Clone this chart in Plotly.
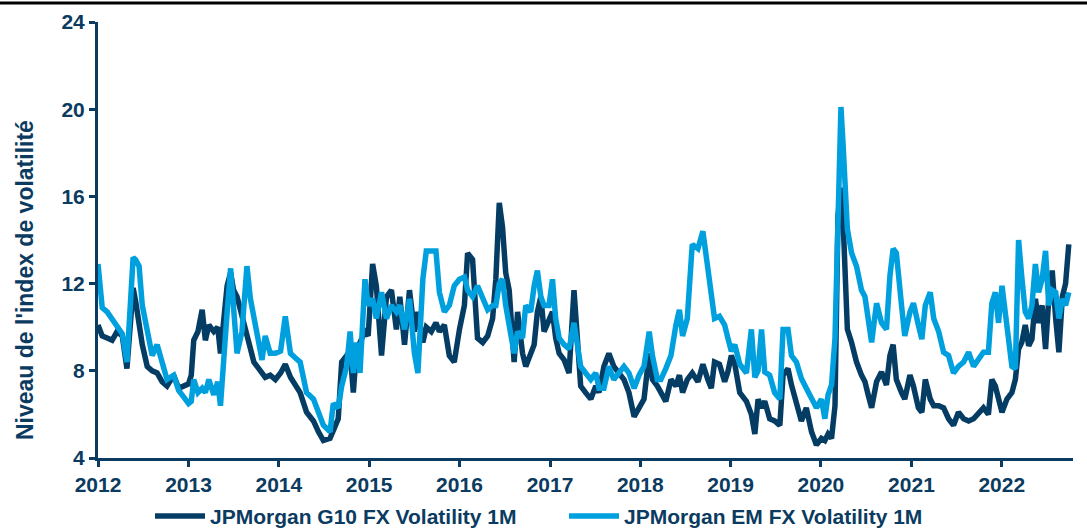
import plotly.graph_objects as go

dates = [
    "2012-01-01","2012-01-18","2012-02-07","2012-02-27","2012-03-18","2012-04-08","2012-04-27","2012-05-11","2012-05-22","2012-06-01","2012-06-15","2012-06-28","2012-07-18","2012-08-07","2012-08-27","2012-09-16","2012-10-06","2012-11-02","2012-11-22","2012-12-12","2013-01-01",
    "2013-01-12","2013-01-22","2013-02-08","2013-02-25","2013-03-10","2013-03-24","2013-04-13","2013-04-29","2013-05-10","2013-05-23","2013-06-06","2013-06-20","2013-07-02","2013-07-16","2013-08-05","2013-08-25","2013-09-08","2013-09-22","2013-10-12","2013-10-25","2013-11-07","2013-11-27","2013-12-18",
    "2014-01-08","2014-01-27","2014-02-17","2014-03-08","2014-03-28","2014-04-23","2014-05-21","2014-06-10","2014-06-30","2014-07-27","2014-08-09","2014-08-29","2014-09-12","2014-10-02","2014-10-16","2014-10-29","2014-11-11","2014-11-25","2014-12-15","2014-12-28",
    "2015-01-15","2015-01-30","2015-02-20","2015-03-12","2015-04-01","2015-04-21","2015-05-05","2015-05-24","2015-06-13","2015-07-03","2015-07-17","2015-08-06","2015-08-20","2015-09-09","2015-09-28","2015-10-12","2015-11-01","2015-11-21","2015-12-11",
    "2016-01-01","2016-01-21","2016-02-03","2016-02-23","2016-03-14","2016-04-04","2016-04-24","2016-05-14","2016-05-27","2016-06-10","2016-06-23","2016-07-06","2016-07-20","2016-08-09","2016-08-23","2016-09-12","2016-09-25","2016-10-15","2016-10-29","2016-11-11","2016-11-25","2016-12-08","2016-12-28",
    "2017-01-11","2017-01-24","2017-02-07","2017-02-27","2017-03-19","2017-04-08","2017-04-21","2017-05-05","2017-05-25","2017-06-15","2017-07-05","2017-07-18","2017-08-07","2017-08-27","2017-09-16","2017-10-06","2017-10-27","2017-11-16","2017-12-07","2017-12-27",
    "2018-01-16","2018-02-06","2018-02-19","2018-03-11","2018-03-25","2018-04-14","2018-05-05","2018-05-25","2018-06-08","2018-06-21","2018-07-10","2018-07-30","2018-08-22","2018-09-11","2018-10-01","2018-10-15","2018-10-28","2018-11-17","2018-12-08","2018-12-21",
    "2019-01-04","2019-01-18","2019-02-07","2019-03-06","2019-03-26","2019-04-09","2019-04-22","2019-05-06","2019-05-19","2019-06-08","2019-06-28","2019-07-19","2019-08-01","2019-08-21","2019-09-04","2019-09-24","2019-10-14","2019-11-03","2019-11-24","2019-12-14",
    "2020-01-03","2020-01-17","2020-01-30","2020-02-13","2020-02-27","2020-03-10","2020-03-22","2020-03-31","2020-04-09","2020-04-17","2020-05-04","2020-05-24","2020-06-13","2020-06-27","2020-07-10","2020-07-24","2020-08-13","2020-09-02","2020-09-22","2020-10-06","2020-10-19","2020-11-01","2020-11-22","2020-12-05","2020-12-26",
    "2021-01-09","2021-01-29","2021-02-12","2021-02-26","2021-03-18","2021-04-01","2021-04-21","2021-05-11","2021-05-31","2021-06-20","2021-07-10","2021-07-31","2021-08-20","2021-09-09","2021-09-29","2021-10-19","2021-11-08","2021-11-22","2021-12-06","2021-12-19",
    "2022-01-02","2022-01-22","2022-02-11","2022-02-25","2022-03-10","2022-03-23","2022-04-06","2022-04-20","2022-05-03","2022-05-17","2022-05-30","2022-06-13","2022-06-27","2022-07-10","2022-07-24","2022-08-07","2022-08-20","2022-09-03","2022-09-16","2022-09-29",
]

g10_vol = [
    10.1, 9.6, 9.5, 9.4, 9.8, 9.6, 8.1, 9.8, 11.8, 11.2, 10.1, 9.2, 8.2, 8.0, 7.9, 7.5, 7.3, 7.8, 7.2, 7.3, 7.4,
    7.8, 9.4, 9.8, 10.8, 9.4, 10.1, 9.8, 10.0, 8.8, 10.4, 11.9, 12.5, 11.7, 11.4, 10.5, 9.5, 9.0, 8.4, 8.1, 7.9, 7.7, 7.8, 7.6,
    7.9, 8.3, 7.7, 7.3, 7.0, 6.1, 5.7, 5.2, 4.8, 4.9, 5.2, 5.8, 8.4, 8.7, 8.9, 7.0, 9.0, 9.3, 9.8, 9.6,
    12.9, 11.9, 8.7, 11.4, 11.7, 9.9, 11.4, 9.2, 11.7, 9.8, 10.7, 9.3, 10.0, 9.8, 10.2, 9.8, 10.1, 8.7, 8.4,
    9.9, 11.0, 13.4, 13.1, 9.5, 9.3, 9.6, 10.4, 12.2, 15.7, 14.6, 12.5, 11.7, 8.4, 10.7, 8.8, 8.2, 8.8, 9.2, 10.7, 11.4, 9.8, 10.4,
    10.7, 9.5, 8.8, 8.5, 7.9, 11.7, 9.9, 7.3, 7.0, 6.7, 7.3, 7.0, 8.2, 8.8, 8.2, 7.9, 7.6, 7.0, 5.9, 6.3,
    6.7, 8.8, 7.6, 7.3, 7.0, 6.6, 7.6, 7.3, 7.8, 7.0, 7.6, 7.9, 7.5, 8.3, 7.6, 7.2, 8.4, 8.3, 7.5, 7.95,
    8.7, 8.3, 7.0, 6.6, 6.0, 5.1, 6.7, 6.3, 6.6, 5.8, 5.7, 5.5, 7.8, 8.1, 7.35, 6.4, 5.7, 6.3, 5.2, 4.6,
    4.9, 4.8, 5.1, 4.9, 6.4, 15.1, 16.4, 14.8, 12.35, 9.9, 9.3, 8.4, 7.8, 7.5, 6.9, 6.3, 7.5, 7.95, 7.35, 8.7, 9.2, 7.6, 7.0, 6.7, 7.8,
    7.3, 6.3, 6.1, 7.6, 6.7, 6.4, 6.4, 6.3, 5.8, 5.5, 6.1, 5.8, 5.7, 5.8, 6.1, 6.3, 6.0, 7.6, 7.3, 6.7,
    6.1, 6.7, 7.0, 7.6, 9.0, 9.3, 10.1, 9.15, 9.45, 11.3, 10.2, 11.0, 9.0, 11.3, 12.6, 10.4, 8.85, 11.4, 12.0, 13.8,
]

em_vol = [
    12.9, 10.9, 10.7, 10.4, 10.1, 9.7, 8.4, 11.5, 13.2, 13.1, 12.8, 11.0, 9.9, 8.7, 9.2, 8.4, 7.6, 7.8, 7.1, 6.8, 6.5,
    6.6, 7.6, 7.0, 7.2, 7.0, 7.6, 6.9, 7.5, 6.4, 8.8, 10.7, 12.7, 10.7, 8.8, 9.8, 12.8, 11.3, 10.4, 9.2, 8.5, 9.6, 8.8, 8.8,
    8.9, 10.5, 8.8, 8.6, 8.4, 7.0, 6.7, 6.1, 5.5, 5.2, 6.5, 6.3, 7.3, 8.2, 9.8, 7.9, 9.3, 7.9, 12.2, 11.0,
    11.3, 10.4, 11.6, 10.4, 11.0, 10.7, 11.0, 9.9, 11.3, 8.8, 7.9, 12.2, 13.5, 13.5, 13.5, 11.6, 10.7, 11.0, 11.9,
    12.2, 12.3, 11.7, 11.4, 11.9, 11.3, 10.8, 11.0, 11.0, 12.0, 12.2, 11.0, 10.1, 8.8, 9.8, 9.5, 11.0, 10.7, 11.9, 12.6, 11.4, 11.0, 11.0,
    12.2, 10.4, 9.5, 9.2, 9.0, 10.2, 9.2, 8.2, 7.9, 7.6, 7.9, 7.2, 7.2, 8.2, 7.6, 7.9, 8.2, 7.9, 7.2, 7.8,
    8.2, 9.8, 8.7, 7.6, 7.6, 8.1, 8.7, 10.1, 10.8, 9.6, 10.4, 13.8, 13.6, 14.4, 12.6, 11.4, 10.4, 10.5, 10.1, 9.5,
    8.9, 9.2, 8.3, 7.9, 9.9, 7.7, 8.0, 9.9, 7.95, 7.8, 7.0, 6.7, 9.9, 9.9, 8.7, 8.4, 7.65, 7.2, 6.7, 6.3,
    6.7, 5.8, 6.9, 7.35, 9.5, 15.1, 20.1, 18.3, 15.4, 14.5, 13.4, 12.8, 11.7, 11.4, 10.4, 9.3, 11.1, 10.2, 9.9, 12.35, 13.6, 13.4, 11.0, 9.6, 10.7,
    11.1, 10.1, 9.45, 11.0, 11.6, 10.4, 9.8, 8.85, 8.7, 7.9, 8.2, 8.4, 8.85, 8.2, 8.55, 8.85, 8.85, 11.1, 11.6, 10.2,
    11.9, 10.0, 8.2, 8.1, 14.0, 12.3, 10.7, 10.4, 11.0, 12.9, 11.6, 12.2, 13.5, 11.0, 11.7, 11.6, 10.4, 11.3, 11.0, 11.6,
]

y_ticks = [4, 8, 12, 16, 20, 24]
x_ticks = ["%d-01-01" % y for y in range(2012, 2023)]
x_labels = [str(y) for y in range(2012, 2023)]
y_title = "Niveau de l'index de volatilité"

NAVY = "#0B3B60"
DARK = "#053C64"
LIGHT = "#00A0DF"
FONT = "Liberation Sans, Arial, sans-serif"

fig = go.Figure()
fig.add_trace(go.Scatter(x=dates, y=g10_vol, mode="lines", name="JPMorgan G10 FX Volatility 1M",
                         line=dict(color=DARK, width=5.5)))
fig.add_trace(go.Scatter(x=dates, y=em_vol, mode="lines", name="JPMorgan EM FX Volatility 1M",
                         line=dict(color=LIGHT, width=5.5)))

fig.update_layout(
    width=1087, height=528,
    margin=dict(l=98, r=14, t=22, b=70, autoexpand=False),
    paper_bgcolor="white", plot_bgcolor="white",
    font=dict(family=FONT, color=NAVY),
    showlegend=True,
    legend=dict(orientation="h", xref="container", yref="container",
                x=150 / 1087, xanchor="left", y=0.022, yanchor="middle",
                entrywidth=349, entrywidthmode="pixels", itemwidth=50,
                font=dict(size=21, color=NAVY, weight="bold"),
                traceorder="normal"),
    shapes=[dict(type="line", xref="paper", yref="paper", x0=-0.2, x1=1.2,
                 y0=1 + 19 / 436, y1=1 + 19 / 436, line=dict(color="black", width=3))],
    annotations=[dict(text=y_title, xref="paper", yref="paper",
                      x=(25 - 98) / 975, y=(458 - 280) / 436,
                      xanchor="center", yanchor="middle", textangle=-90, showarrow=False,
                      font=dict(size=23, color=NAVY, weight="bold"))],
)
fig.update_xaxes(
    type="date", range=["2012-01-01", "2022-10-16"], automargin=False,
    tickmode="array", tickvals=x_ticks, ticktext=x_labels,
    showgrid=False, zeroline=False,
    showline=True, linecolor=NAVY, linewidth=3,
    ticks="outside", ticklen=6, tickwidth=3, tickcolor=NAVY,
    tickfont=dict(size=21, color=NAVY, weight="bold"),
)
fig.update_yaxes(
    range=[4, 24], tickmode="array", tickvals=y_ticks, automargin=False,
    showgrid=False, zeroline=False,
    showline=True, linecolor=NAVY, linewidth=3,
    ticks="outside", ticklen=6, tickwidth=3, tickcolor=NAVY,
    tickfont=dict(size=21, color=NAVY, weight="bold"),
)

fig.write_html("out.html", config={"displayModeBar": False},
               post_script="document.body.style.margin='0';")
